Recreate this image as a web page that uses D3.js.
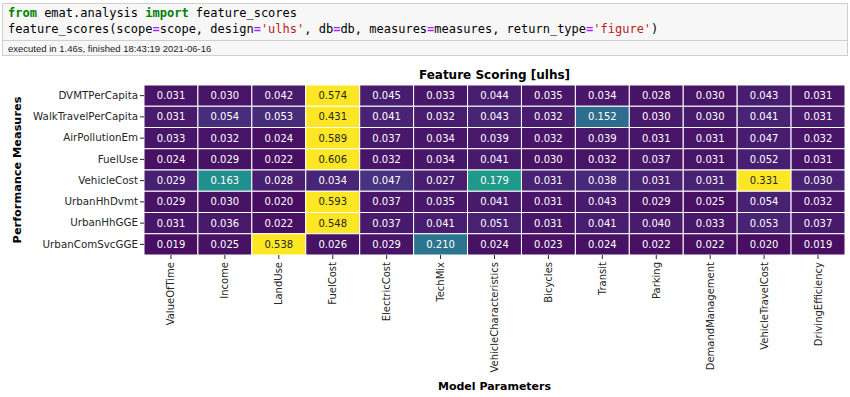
<!DOCTYPE html>
<html>
<head>
<meta charset="utf-8">
<script src="https://cdn.jsdelivr.net/npm/d3@7"></script>
<style>
  body { margin: 0; background: #fff; }
  text { font-family: "DejaVu Sans", sans-serif; }
  .code { font-family: "DejaVu Sans Mono", monospace; font-size: 12px; white-space: pre; fill: #000; }
</style>
</head>
<body>
<svg width="850" height="397"></svg>
<script>
// model parameters (columns) and performance measures (rows)
const parameters = ["ValueOfTime", "Income", "LandUse", "FuelCost", "ElectricCost", "TechMix",
  "VehicleCharacteristics", "Bicycles", "Transit", "Parking", "DemandManagement",
  "VehicleTravelCost", "DrivingEfficiency"];
const measures = ["DVMTPerCapita", "WalkTravelPerCapita", "AirPollutionEm", "FuelUse",
  "VehicleCost", "UrbanHhDvmt", "UrbanHhGGE", "UrbanComSvcGGE"];

const dvmtPerCapita = [0.031, 0.030, 0.042, 0.574, 0.045, 0.033, 0.044, 0.035, 0.034, 0.028, 0.030, 0.043, 0.031];
const walkTravelPerCapita = [0.031, 0.054, 0.053, 0.431, 0.041, 0.032, 0.043, 0.032, 0.152, 0.030, 0.030, 0.041, 0.031];
const airPollutionEm = [0.033, 0.032, 0.024, 0.589, 0.037, 0.034, 0.039, 0.032, 0.039, 0.031, 0.031, 0.047, 0.032];
const fuelUse = [0.024, 0.029, 0.022, 0.606, 0.032, 0.034, 0.041, 0.030, 0.032, 0.037, 0.031, 0.052, 0.031];
const vehicleCost = [0.029, 0.163, 0.028, 0.034, 0.047, 0.027, 0.179, 0.031, 0.038, 0.031, 0.031, 0.331, 0.030];
const urbanHhDvmt = [0.029, 0.030, 0.020, 0.593, 0.037, 0.035, 0.041, 0.031, 0.043, 0.029, 0.025, 0.054, 0.032];
const urbanHhGGE = [0.031, 0.036, 0.022, 0.548, 0.037, 0.041, 0.051, 0.031, 0.041, 0.040, 0.033, 0.053, 0.037];
const urbanComSvcGGE = [0.019, 0.025, 0.538, 0.026, 0.029, 0.210, 0.024, 0.023, 0.024, 0.022, 0.022, 0.020, 0.019];

const scores = [dvmtPerCapita, walkTravelPerCapita, airPollutionEm, fuelUse,
  vehicleCost, urbanHhDvmt, urbanHhGGE, urbanComSvcGGE];

function draw() {
  const svg = d3.select("svg");

  // notebook input cell
  svg.append("rect")
    .attr("x", 2.5).attr("y", 3.5).attr("width", 845).attr("height", 37)
    .attr("fill", "#f7f7f7").attr("stroke", "#cfcfcf");
  svg.append("rect")
    .attr("x", 2.5).attr("y", 40.5).attr("width", 845).attr("height", 15)
    .attr("fill", "#f7f7f7").attr("stroke", "#cfcfcf");

  const kw = { fill: "#008000", "font-weight": "bold" };
  const op = { fill: "#aa22ff", "font-weight": "bold" };
  const str = { fill: "#ba2121" };
  const line1 = [["from", kw], [" emat.analysis "], ["import", kw], [" feature_scores"]];
  const line2 = [["feature_scores(scope"], ["=", op], ["scope, design"], ["=", op], ["'ulhs'", str],
    [", db"], ["=", op], ["db, measures"], ["=", op], ["measures, return_type"], ["=", op],
    ["'figure'", str], [")"]];

  [[line1, 17], [line2, 33]].forEach(([parts, y]) => {
    const t = svg.append("text").attr("class", "code").attr("x", 8).attr("y", y);
    parts.forEach(([s, st]) => {
      const sp = t.append("tspan").text(s);
      if (st) Object.entries(st).forEach(([k, v]) => sp.attr(k, v));
    });
  });

  svg.append("text")
    .attr("x", 8).attr("y", 51.5)
    .style("font-family", "'Liberation Sans', Arial, sans-serif")
    .attr("font-size", 9.5).attr("fill", "#222")
    .text("executed in 1.46s, finished 18:43:19 2021-06-16");

  // heatmap
  const left = 144, right = 845, top = 85, bottom = 255;

  const x = d3.scaleBand().domain(parameters).range([left, right]);
  const y = d3.scaleBand().domain(measures).range([top, bottom]);

  const luminance = c => {
    const rgb = d3.rgb(c);
    const lin = v => { v /= 255; return v <= 0.03928 ? v / 12.92 : Math.pow((v + 0.055) / 1.055, 2.4); };
    return 0.2126 * lin(rgb.r) + 0.7152 * lin(rgb.g) + 0.0722 * lin(rgb.b);
  };

  // colours are scaled row by row
  const cells = [];
  scores.forEach((row, i) => {
    const color = d3.scaleSequential(d3.interpolateViridis).domain([0, d3.max(row)]);
    row.forEach((v, j) => {
      cells.push({ m: measures[i], p: parameters[j], v: v, c: color(v) });
    });
  });

  const g = svg.append("g");
  g.selectAll("rect")
    .data(cells)
    .join("rect")
    .attr("x", d => x(d.p))
    .attr("y", d => y(d.m))
    .attr("width", x.bandwidth())
    .attr("height", y.bandwidth())
    .attr("fill", d => d.c)
    .attr("stroke", "#fff")
    .attr("stroke-width", 1);

  g.selectAll("text")
    .data(cells)
    .join("text")
    .attr("x", d => x(d.p) + x.bandwidth() / 2)
    .attr("y", d => y(d.m) + y.bandwidth() / 2)
    .attr("dy", "0.35em")
    .attr("text-anchor", "middle")
    .attr("font-size", 10)
    .attr("fill", d => luminance(d.c) > 0.408 ? "#262626" : "#fff")
    .text(d => d3.format(".3f")(d.v));

  const yAxis = svg.append("g")
    .attr("transform", `translate(${left},0)`)
    .call(d3.axisLeft(y).tickSize(4).tickPadding(2));
  yAxis.select(".domain").remove();
  yAxis.selectAll("text").attr("font-size", 10.3).attr("fill", "#262626")
    .style("font-family", "'DejaVu Sans', sans-serif");
  yAxis.selectAll("line").attr("stroke", "#262626");

  const xAxis = svg.append("g")
    .attr("transform", `translate(0,${bottom})`)
    .call(d3.axisBottom(x).tickSize(4).tickPadding(2));
  xAxis.select(".domain").remove();
  xAxis.selectAll("line").attr("stroke", "#262626");
  xAxis.selectAll("text")
    .attr("font-size", 10).attr("fill", "#262626")
    .style("font-family", "'DejaVu Sans', sans-serif")
    .attr("text-anchor", "end")
    .attr("transform", "rotate(-90)")
    .attr("x", -7).attr("y", 0).attr("dy", "0.35em");

  svg.append("text")
    .attr("x", (left + right) / 2).attr("y", 79)
    .attr("text-anchor", "middle")
    .attr("font-size", 12).attr("font-weight", "bold")
    .text("Feature Scoring [ulhs]");

  svg.append("text")
    .attr("x", (left + right) / 2).attr("y", 390)
    .attr("text-anchor", "middle")
    .attr("font-size", 11).attr("font-weight", "bold")
    .text("Model Parameters");

  svg.append("text")
    .attr("transform", `translate(21,${(top + bottom) / 2}) rotate(-90)`)
    .attr("text-anchor", "middle")
    .attr("font-size", 11.3).attr("font-weight", "bold")
    .text("Performance Measures");
}

window.onload = draw;
</script>
</body>
</html>
